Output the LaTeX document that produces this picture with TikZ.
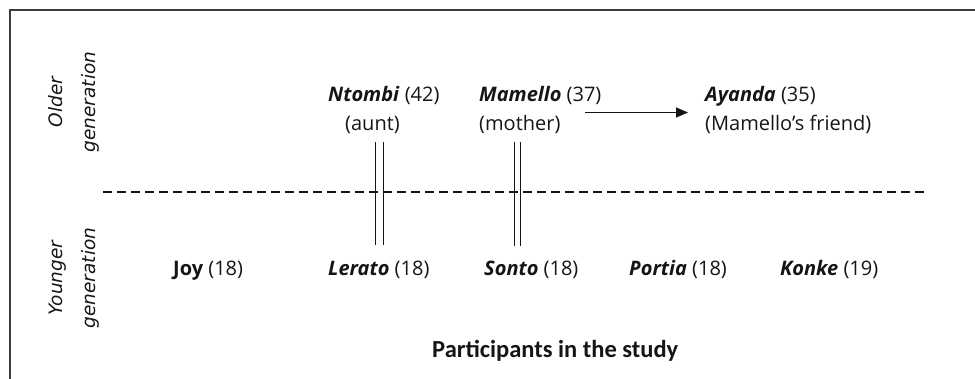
\documentclass[tikz,border=0pt]{standalone}
\usepackage{fontspec}
\setmainfont{Open Sans}
\newfontfamily\titlefont{Carlito}
\newfontfamily\sidefont{DejaVu Sans}
\usetikzlibrary{arrows.meta}
\definecolor{framegray}{HTML}{3A3A3A}
\definecolor{ink}{HTML}{151515}
\tikzset{
  person/.style={anchor=base west, inner sep=0pt, text=ink, font=\fontsize{20}{24}\selectfont},
  sidelabel/.style={rotate=90, align=center, inner sep=0pt, text=ink, font=\sidefont\itshape\fontsize{18.5}{33}\selectfont},
  titletext/.style={anchor=base west, inner sep=0pt, text=ink, font=\titlefont\bfseries\fontsize{24.5}{28}\selectfont},
  framerule/.style={draw=framegray, line width=2.2pt},
  kinline/.style={draw=ink, line width=1.2pt},
  divider/.style={draw=ink, line width=1.2pt, dash pattern=on 9pt off 5pt},
  linkarrow/.style={draw=ink, line width=1.3pt, -{Triangle[length=12pt,width=10pt]}}
}
\begin{document}
\begin{tikzpicture}[x=1pt,y=-1pt]
\useasboundingbox (0,0) rectangle (975,379);
% frame
\draw[framerule] (10,379) -- (10,10) -- (975,10);
% side labels
\node[sidelabel] (older) at (74,102) {Older\\generation};
\node[sidelabel] (younger) at (74,278) {Younger\\generation};
% older generation
\node[person] (ntombi) at (328,102) {\textbf{\textit{Ntombi}} (42)};
\node[person] (aunt) at (345,131) {(aunt)};
\node[person] (mamello) at (479,102) {\textbf{\textit{Mamello}} (37)};
\node[person] (mother) at (479,131) {(mother)};
\node[person] (ayanda) at (705,102) {\textbf{\textit{Ayanda}} (35)};
\node[person] (friend) at (705,131) {(Mamello’s friend)};
% younger generation
\node[person] (joy) at (173,276) {\textbf{Joy} (18)};
\node[person] (lerato) at (328,276) {\textbf{\textit{Lerato}} (18)};
\node[person] (sonto) at (484,276) {\textbf{\textit{Sonto}} (18)};
\node[person] (portia) at (629,276) {\textbf{\textit{Portia}} (18)};
\node[person] (konke) at (780,276) {\textbf{\textit{Konke}} (19)};
% title
\node[titletext] (title) at (432,358) {Participants in the study};
% divider
\coordinate (divL) at (103,192);
\coordinate (divR) at (927,192);
\draw[divider] (divL) -- (divR);
% kinship double lines
\coordinate (n1t) at (375.5,142); \coordinate (n1b) at (375.5,245.5);
\coordinate (n2t) at (383.5,142); \coordinate (n2b) at (383.5,245.5);
\coordinate (m1t) at (514.5,142); \coordinate (m1b) at (514.5,246.5);
\coordinate (m2t) at (520.5,142); \coordinate (m2b) at (520.5,246.5);
\draw[kinline] (n1t) -- (n1b);
\draw[kinline] (n2t) -- (n2b);
\draw[kinline] (m1t) -- (m1b);
\draw[kinline] (m2t) -- (m2b);
% arrow
\coordinate (arrS) at (585,112.5);
\coordinate (arrE) at (688,112.5);
\draw[linkarrow] (arrS) -- (arrE);
\end{tikzpicture}
\end{document}
